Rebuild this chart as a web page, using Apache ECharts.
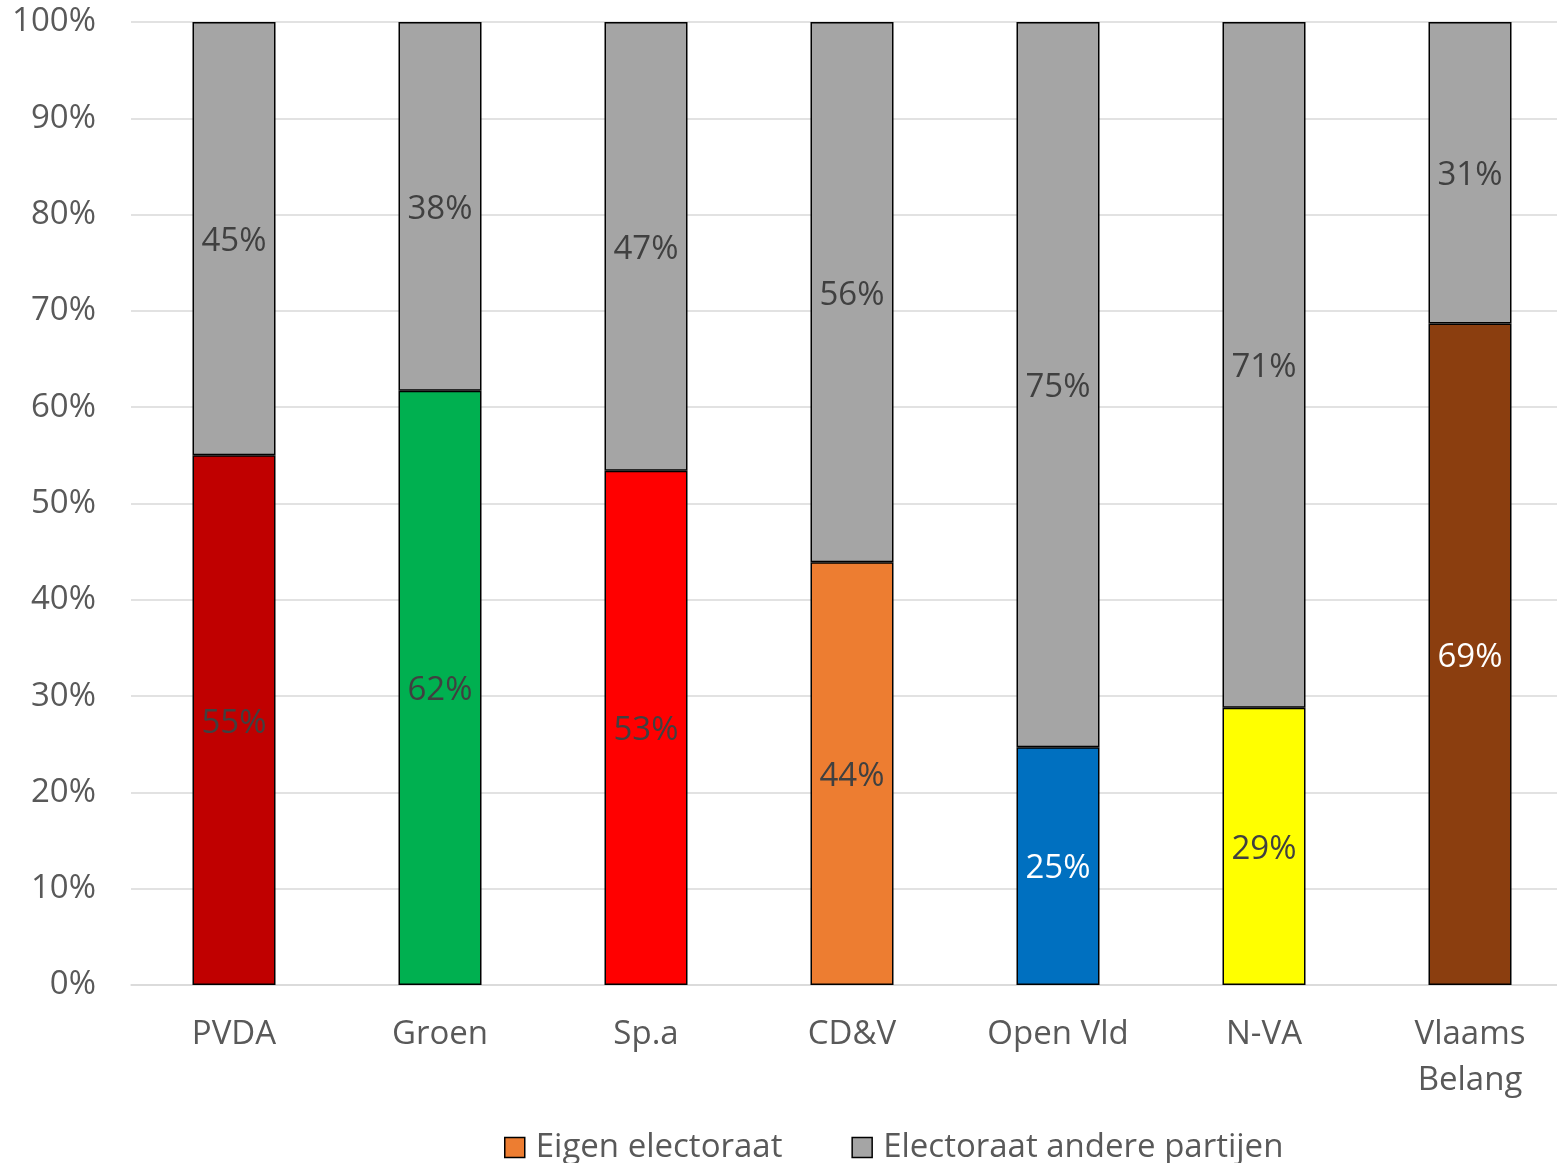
<!DOCTYPE html>
<html><head><meta charset="utf-8">
<script src="https://cdn.jsdelivr.net/npm/echarts@6/dist/echarts.min.js"></script>
<style>html,body{margin:0;padding:0;background:#fff;overflow:hidden}#c{width:1573px;height:1163px}</style>
</head><body><div id="c"></div>
<script>
const categories = ['PVDA', 'Groen', 'Sp.a', 'CD&V', 'Open Vld', 'N-VA', 'Vlaams\nBelang'];
const eigen = [55.0, 61.7, 53.4, 43.9, 24.7, 28.8, 68.7];
const andere = [45.0, 38.3, 46.6, 56.1, 75.3, 71.2, 31.3];
const partyColors = ['#C00000', '#00B050', '#FF0000', '#ED7D31', '#0070C0', '#FFFF00', '#8B3E0F'];
const eigenLabelColors = ['#404040', '#404040', '#404040', '#404040', '#FFFFFF', '#404040', '#FFFFFF'];
const yTicks = [0, 10, 20, 30, 40, 50, 60, 70, 80, 90, 100];

const FONT = 'Open Sans';
const FS = 33;
const chart = echarts.init(document.getElementById('c'));
chart.setOption({
  animation: false,
  textStyle: { fontFamily: FONT },
  grid: { left: 131, top: 22, width: 1442, height: 963, containLabel: false },
  legend: {
    top: 1126, left: 499, itemWidth: 20, itemHeight: 20, itemGap: 69,
    textStyle: { fontFamily: FONT, fontSize: FS, color: '#595959', padding: [0, 0, 0, 6] },
    data: [
      { name: 'Eigen electoraat', icon: 'rect', itemStyle: { color: '#ED7D31', borderColor: '#000', borderWidth: 1.5 } },
      { name: 'Electoraat andere partijen', icon: 'rect', itemStyle: { color: '#A5A5A5', borderColor: '#000', borderWidth: 1.5 } }
    ]
  },
  xAxis: {
    type: 'category', data: categories,
    axisLine: { show: true, lineStyle: { color: '#D9D9D9', width: 1.5 } },
    axisTick: { show: false },
    axisLabel: { fontFamily: FONT, fontSize: FS, color: '#595959', margin: 27, lineHeight: 46 }
  },
  yAxis: {
    type: 'value', min: 0, max: 100, interval: 10,
    axisLabel: { fontFamily: FONT, fontSize: FS, color: '#595959', margin: 35, formatter: v => v + '%' },
    splitLine: { lineStyle: { color: '#D9D9D9', width: 1.5 } },
    axisLine: { show: false }, axisTick: { show: false }
  },
  series: [
    {
      name: 'Eigen electoraat', type: 'bar', stack: 's', barWidth: 83,
      itemStyle: { color: '#ED7D31', borderColor: '#000', borderWidth: 1.5 },
      data: eigen.map((v, i) => ({
        value: v,
        itemStyle: { color: partyColors[i] },
        label: { color: eigenLabelColors[i] }
      })),
      label: { show: true, position: 'inside', offset: [0, 3], fontFamily: FONT, fontSize: FS, formatter: p => Math.round(p.value) + '%' }
    },
    {
      name: 'Electoraat andere partijen', type: 'bar', stack: 's', barWidth: 83,
      itemStyle: { color: '#A5A5A5', borderColor: '#000', borderWidth: 1.5 },
      data: andere,
      label: { show: true, position: 'inside', offset: [0, 3], fontFamily: FONT, fontSize: FS, color: '#404040', formatter: p => Math.round(p.value) + '%' }
    }
  ]
});
</script></body></html>
